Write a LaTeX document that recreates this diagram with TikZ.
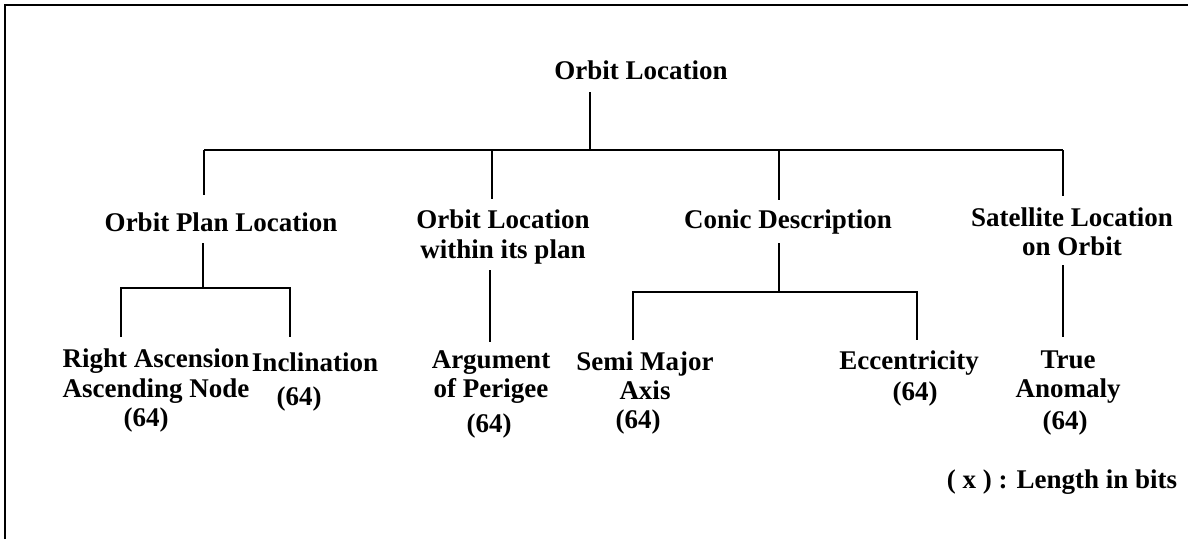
\documentclass[tikz,border=0pt]{standalone}
\usepackage{fontspec}
\setmainfont{Liberation Serif}
\begin{document}
\begin{tikzpicture}[x=1pt,y=-1pt,
  lbl/.style={font=\fontsize{27}{29.5}\selectfont\bfseries, align=center, inner sep=0pt},
  tree/.style={line width=1.8pt},
  frame/.style={line width=2pt}]
\useasboundingbox (0,0) rectangle (1193,539);
% frame
\coordinate (fbl) at (5,539);
\coordinate (ftl) at (5,5);
\coordinate (ftr) at (1188,5);
\draw[frame] (fbl) -- (ftl) -- (ftr);

% labels
\node[lbl] (root) at (641,70) {Orbit Location};
\node[lbl] (opl) at (221,222) {Orbit Plan Location};
\node[lbl] (olw) at (503,237) {Orbit Location\\within its plan};
\node[lbl] (cd) at (788,222) {Conic Description};
\node[lbl] (sl) at (1072,232) {Satellite Location\\on Orbit};
\node[lbl] (ra) at (156,376) {Right Ascension\\Ascending Node};
\node[lbl] (ra64) at (146,420) {(64)};
\node[lbl] (inc) at (315,362) {Inclination};
\node[lbl] (inc64) at (299,399) {(64)};
\node[lbl] (ap) at (491,377) {Argument\\of Perigee};
\node[lbl] (ap64) at (489,426) {(64)};
\node[lbl] (sma) at (645,376) {Semi Major\\Axis};
\node[lbl] (sma64) at (638,422) {(64)};
\node[lbl] (ecc) at (909,363) {Eccentricity};
\node[lbl] (ecc64) at (915,394) {(64)};
\node[lbl] (ta) at (1068,377) {True\\Anomaly};
\node[lbl] (ta64) at (1065,423) {(64)};
\node[lbl] (leg) at (1062,482) {( x ) : Length in bits};

% junction coordinates
\coordinate (rootS) at (590,92);
\coordinate (rootJ) at (590,150);
\coordinate (barL) at (204,150);
\coordinate (barR) at (1063,150);
\coordinate (oplN) at (204,195);
\coordinate (olwJ) at (492,150);
\coordinate (olwN) at (492,199);
\coordinate (cdJ) at (779,150);
\coordinate (cdN) at (779,200);
\coordinate (slN) at (1063,196);

\coordinate (oplS) at (203,243);
\coordinate (oplJ) at (203,288);
\coordinate (raJ) at (121,288);
\coordinate (incJ) at (290,288);
\coordinate (raN) at (121,337);
\coordinate (incN) at (290,337);

\coordinate (olwS) at (490,270);
\coordinate (apN) at (490,342);

\coordinate (cdS) at (779,243);
\coordinate (cdJ2) at (779,292);
\coordinate (smaJ) at (633,292);
\coordinate (eccJ) at (917,292);
\coordinate (smaN) at (633,340);
\coordinate (eccN) at (917,340);

\coordinate (slS) at (1063,265);
\coordinate (taN) at (1063,337);

% connectors
\draw[tree] (rootS) -- (rootJ);
\draw[tree] (barL) -- (barR);
\draw[tree] (barL) -- (oplN);
\draw[tree] (olwJ) -- (olwN);
\draw[tree] (cdJ) -- (cdN);
\draw[tree] (barR) -- (slN);

\draw[tree] (oplS) -- (oplJ);
\draw[tree] (raN) -- (raJ) -- (incJ) -- (incN);

\draw[tree] (olwS) -- (apN);

\draw[tree] (cdS) -- (cdJ2);
\draw[tree] (smaN) -- (smaJ) -- (eccJ) -- (eccN);

\draw[tree] (slS) -- (taN);
\end{tikzpicture}
\end{document}
